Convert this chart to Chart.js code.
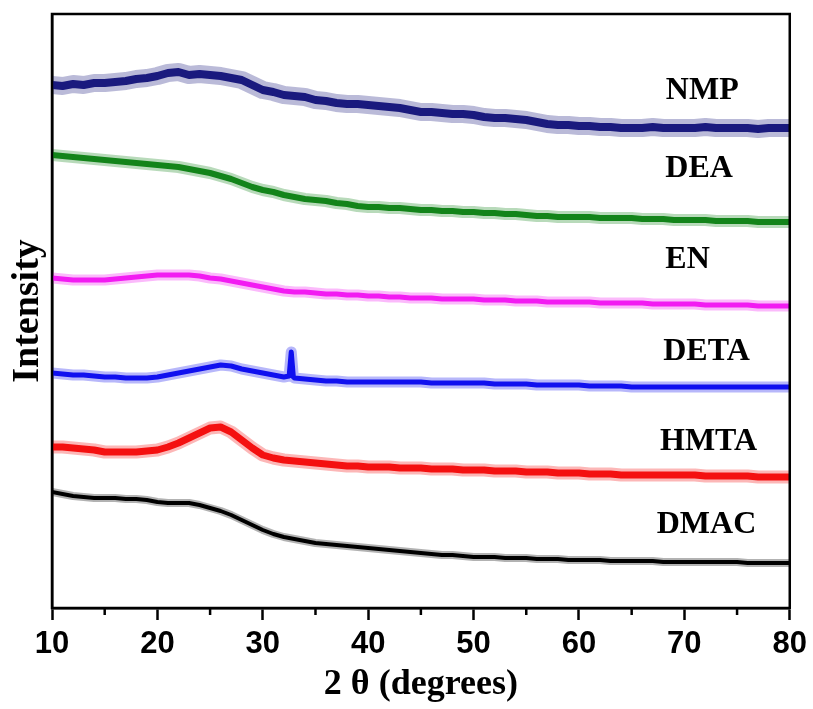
<!DOCTYPE html>
<html>
<head>
<meta charset="utf-8">
<script src="https://cdn.jsdelivr.net/npm/chart.js@4/dist/chart.umd.min.js"></script>
<style>
  body { margin: 0; background: #fff; }
  #wrap { width: 813px; height: 709px; }
</style>
</head>
<body>
<div id="wrap"><canvas id="xrd"></canvas></div>
<script>
// 2 theta, one reading per degree
const theta = [];
for (let t = 10; t <= 80; t++) theta.push(t);

// intensities (arbitrary units, traces already offset)
const nmp = [523,522,524,523,525,525,526,527,529,530,532,535,536,533,534,533,532,530,528,523,518,516,513,512,511,508,507,505,504,504,503,502,501,500,498,496,496,495,494,494,493,491,490,490,489,488,486,484,483,483,482,482,481,481,480,480,480,481,480,480,480,480,481,480,480,480,480,479,480,480,480];
const dea = [453,452,451,450,449,448,447,446,445,444,443,442,441,439,437,435,432,429,425,421,418,416,413,411,409,408,407,405,404,402,401,401,400,400,399,398,398,397,397,396,396,395,395,394,394,393,392,392,391,391,391,391,390,390,390,390,389,389,389,388,388,388,388,387,387,387,387,386,386,386,386];
const en = [330,329,328,328,328,328,329,330,331,332,333,333,333,333,332,330,329,327,325,323,321,319,317,316,316,315,314,314,313,313,312,312,311,311,310,310,310,309,309,309,309,308,308,308,307,307,307,306,306,306,306,306,305,305,305,305,305,304,304,304,304,304,303,303,303,303,303,302,302,302,302];
const deta = [235,234,233,233,232,231,231,230,230,230,231,233,235,237,239,241,243,242,239,237,235,233,231,230,229,228,227,227,226,226,226,226,226,226,226,226,225,225,225,225,225,225,224,224,224,224,223,223,223,223,223,222,222,222,222,221,221,221,221,221,221,221,221,221,221,221,221,221,221,221,221];
const hmta = [161,161,160,159,158,156,156,156,156,157,158,161,165,170,175,180,181,176,168,160,153,150,148,147,146,145,144,143,142,142,141,141,141,140,140,140,139,139,139,138,138,138,137,137,137,136,136,136,135,135,135,134,134,134,133,133,133,133,133,133,133,133,132,132,132,132,132,131,131,131,131];
const dmac = [116,114,112,111,110,110,110,109,109,108,106,105,105,105,103,100,97,93,88,83,78,74,71,69,67,65,64,63,62,61,60,59,58,57,56,55,54,53,53,52,51,51,51,50,50,50,49,49,49,48,48,48,48,47,47,47,47,47,46,46,46,46,46,46,46,46,45,45,45,45,45];

// the sharp DETA reflection near 32.7 deg
const detaPeakTheta = [32.5, 32.7, 32.9];
const detaPeakVal = [232, 256, 231];

const names = ['NMP', 'DEA', 'EN', 'DETA', 'HMTA', 'DMAC'];
const labelTheta = [71.7, 71.4, 70.3, 72.1, 72.3, 72.1];
const labelVal = [517, 439, 348, 256, 166, 83];

function toPoints(xs, ys) {
  return xs.map((x, i) => ({ x: x, y: ys[i] }));
}

const detaPts = toPoints(theta, deta)
  .concat(toPoints(detaPeakTheta, detaPeakVal))
  .sort((a, b) => a.x - b.x);

// core = dense part of the noisy trace, halo = the fringe of spikes around it
const series = [
  { label: 'NMP', data: toPoints(theta, nmp), color: '27,27,126', core: 8, halo: 18 },
  { label: 'DEA', data: toPoints(theta, dea), color: '19,133,26', core: 6, halo: 12 },
  { label: 'EN', data: toPoints(theta, en), color: '242,28,242', core: 5, halo: 11 },
  { label: 'DETA', data: detaPts, color: '16,16,240', core: 5, halo: 11 },
  { label: 'HMTA', data: toPoints(theta, hmta), color: '244,16,16', core: 7, halo: 13 },
  { label: 'DMAC', data: toPoints(theta, dmac), color: '0,0,0', core: 4, halo: 8 },
];

const serif = '"Liberation Serif", "Times New Roman", serif';
const sans = '"Liberation Sans", Arial, sans-serif';

const datasets = [];
series.forEach(s => {
  datasets.push({
    label: s.label + ' noise',
    data: s.data,
    borderColor: 'rgba(' + s.color + ',0.3)',
    borderWidth: s.halo,
    pointRadius: 0,
    tension: 0,
    borderJoinStyle: 'round',
    fill: false,
  });
  datasets.push({
    label: s.label,
    data: s.data,
    borderColor: 'rgb(' + s.color + ')',
    borderWidth: s.core,
    pointRadius: 0,
    tension: 0,
    borderJoinStyle: 'round',
    fill: false,
  });
});

// frame, minor ticks and the sample names
const decorations = {
  id: 'decorations',
  afterDraw(chart) {
    const { ctx, chartArea: a, scales } = chart;
    ctx.save();
    ctx.strokeStyle = '#000';
    ctx.lineWidth = 2.5;
    ctx.strokeRect(a.left, a.top, a.right - a.left, a.bottom - a.top);

    for (let t = 15; t < 80; t += 10) {
      const px = scales.x.getPixelForValue(t);
      ctx.beginPath();
      ctx.moveTo(px, a.bottom);
      ctx.lineTo(px, a.bottom + 7);
      ctx.stroke();
    }

    ctx.fillStyle = '#000';
    ctx.font = 'bold 32px ' + serif;
    ctx.textAlign = 'center';
    ctx.textBaseline = 'middle';
    names.forEach((n, i) => {
      ctx.fillText(n, scales.x.getPixelForValue(labelTheta[i]), scales.y.getPixelForValue(labelVal[i]));
    });
    ctx.restore();
  }
};

new Chart(document.getElementById('xrd'), {
  type: 'line',
  data: { datasets },
  options: {
    responsive: true,
    maintainAspectRatio: false,
    animation: false,
    layout: { padding: { top: 14, right: 21, left: 0, bottom: 0 } },
    plugins: {
      legend: { display: false },
      tooltip: { enabled: false },
    },
    scales: {
      x: {
        type: 'linear',
        min: 10,
        max: 80,
        afterFit(s) { s.height = 101; },
        border: { display: true, color: '#000', width: 2.5 },
        grid: { display: true, drawOnChartArea: false, drawTicks: true, tickLength: 12, tickWidth: 2.5, tickColor: '#000' },
        ticks: { stepSize: 10, color: '#000', padding: 6, font: { family: sans, size: 31, weight: 'bold' } },
        title: {
          display: true,
          text: '2 θ (degrees)',
          color: '#000',
          padding: { top: 0, bottom: 3 },
          font: { family: serif, size: 36, weight: 'bold' },
        },
      },
      y: {
        min: 0,
        max: 594,
        afterFit(s) { s.width = 52; },
        border: { display: true, color: '#000', width: 2.5 },
        grid: { display: false },
        ticks: { display: false },
        title: {
          display: true,
          text: 'Intensity',
          color: '#000',
          padding: { top: 5, bottom: 0 },
          font: { family: serif, size: 38, weight: 'bold' },
        },
      },
    },
  },
  plugins: [decorations],
});
</script>
</body>
</html>
